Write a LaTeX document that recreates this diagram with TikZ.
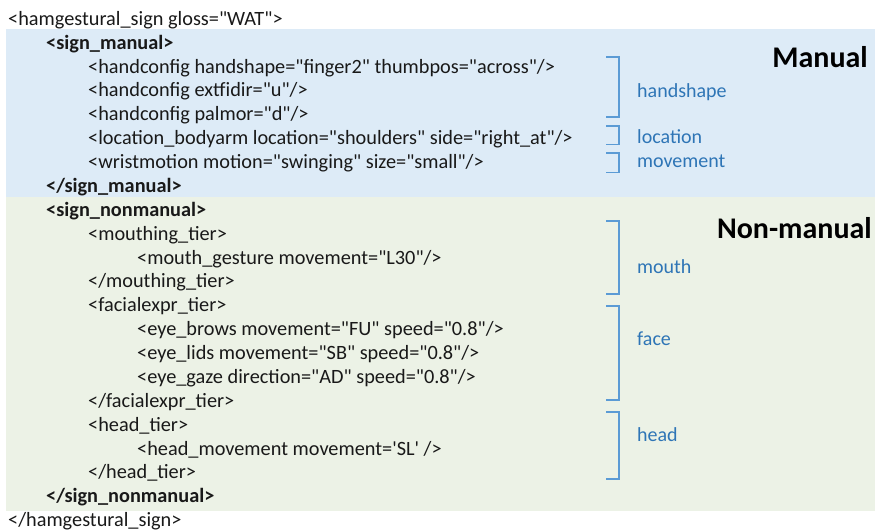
\documentclass[tikz,border=0pt]{standalone}
\usepackage{fontspec}
\setmainfont{Carlito}[Ligatures=TeXOff]
\definecolor{manualbg}{RGB}{221,235,247}
\definecolor{nonmanualbg}{RGB}{236,242,230}
\definecolor{brk}{RGB}{91,155,213}
\definecolor{lbl}{RGB}{46,117,182}
\definecolor{code}{RGB}{25,25,25}
\begin{document}
\begin{tikzpicture}[x=1pt,y=-1pt,
  xml/.style={anchor=base west,inner sep=0pt,text=code,font=\fontsize{20.3}{24}\selectfont},
  xmlb/.style={xml,font=\fontsize{20.3}{24}\selectfont\bfseries},
  tag/.style={anchor=base west,inner sep=0pt,text=lbl,font=\fontsize{20}{24}\selectfont},
  title/.style={anchor=base east,inner sep=0pt,text=black,font=\fontsize{30}{35}\selectfont\bfseries},
  bracket/.style={draw=brk,line width=1.6pt}]
\useasboundingbox (0,0) rectangle (875,532);
% section backgrounds
\fill[manualbg] (6,29.5) rectangle (875,197);
\fill[nonmanualbg] (6,197) rectangle (875,511);

% XML listing
\node[xml]  (l0)  at (8,25.5)      {<hamgestural\_sign gloss="WAT">};
\node[xmlb] (l1)  at (46,49.3)   {<sign\_manual>};
\node[xml]  (l2)  at (88,73.1)   {<handconfig handshape="finger2" thumbpos="across"/>};
\node[xml]  (l3)  at (88,96.9)   {<handconfig extfidir="u"/>};
\node[xml]  (l4)  at (88,120.7)  {<handconfig palmor="d"/>};
\node[xml]  (l5)  at (88,144.5)    {<location\_bodyarm location="shoulders" side="right\_at"/>};
\node[xml]  (l6)  at (88,168.3)  {<wristmotion motion="swinging" size="small"/>};
\node[xmlb] (l7)  at (46,192.1)  {</sign\_manual>};
\node[xmlb] (l8)  at (46,216.2)  {<sign\_nonmanual>};
\node[xml]  (l9)  at (88,240.1)  {<mouthing\_tier>};
\node[xml]  (l10) at (137,264)   {<mouth\_gesture movement="L30"/>};
\node[xml]  (l11) at (88,287.9)  {</mouthing\_tier>};
\node[xml]  (l12) at (88,311.7)  {<facialexpr\_tier>};
\node[xml]  (l13) at (137,335.6) {<eye\_brows movement="FU" speed="0.8"/>};
\node[xml]  (l14) at (137,359.5) {<eye\_lids movement="SB" speed="0.8"/>};
\node[xml]  (l15) at (137,383.4)   {<eye\_gaze direction="AD" speed="0.8"/>};
\node[xml]  (l16) at (88,407.2)  {</facialexpr\_tier>};
\node[xml]  (l17) at (88,431.1)  {<head\_tier>};
\node[xml]  (l18) at (137,455) {<head\_movement movement='SL' />};
\node[xml]  (l19) at (88,478.9)  {</head\_tier>};
\node[xmlb] (l20) at (46,502.7)    {</sign\_nonmanual>};
\node[xml]  (l21) at (8,526.3)   {</hamgestural\_sign>};

% section titles
\node[title] (tman) at (868,68)  {Manual};
\node[title] (tnon) at (872,238) {Non-manual};

% brackets with their labels
\draw[bracket] (606,57) -| (619,117) -- (606,117);
\node[tag] (hs) at (637,97.5) {handshape};
\draw[bracket] (606,126) -| (619,144.5) -- (606,144.5);
\node[tag] (loc) at (637,143.5) {location};
\draw[bracket] (606,153) -| (619,172.5) -- (606,172.5);
\node[tag] (mov) at (637,167) {movement};
\draw[bracket] (606,221) -| (619,294) -- (606,294);
\node[tag] (mo) at (637,273) {mouth};
\draw[bracket] (606,306) -| (619,400) -- (606,400);
\node[tag] (fa) at (637,345) {face};
\draw[bracket] (606,412) -| (619,479) -- (606,479);
\node[tag] (he) at (637,441.5) {head};
\end{tikzpicture}
\end{document}
